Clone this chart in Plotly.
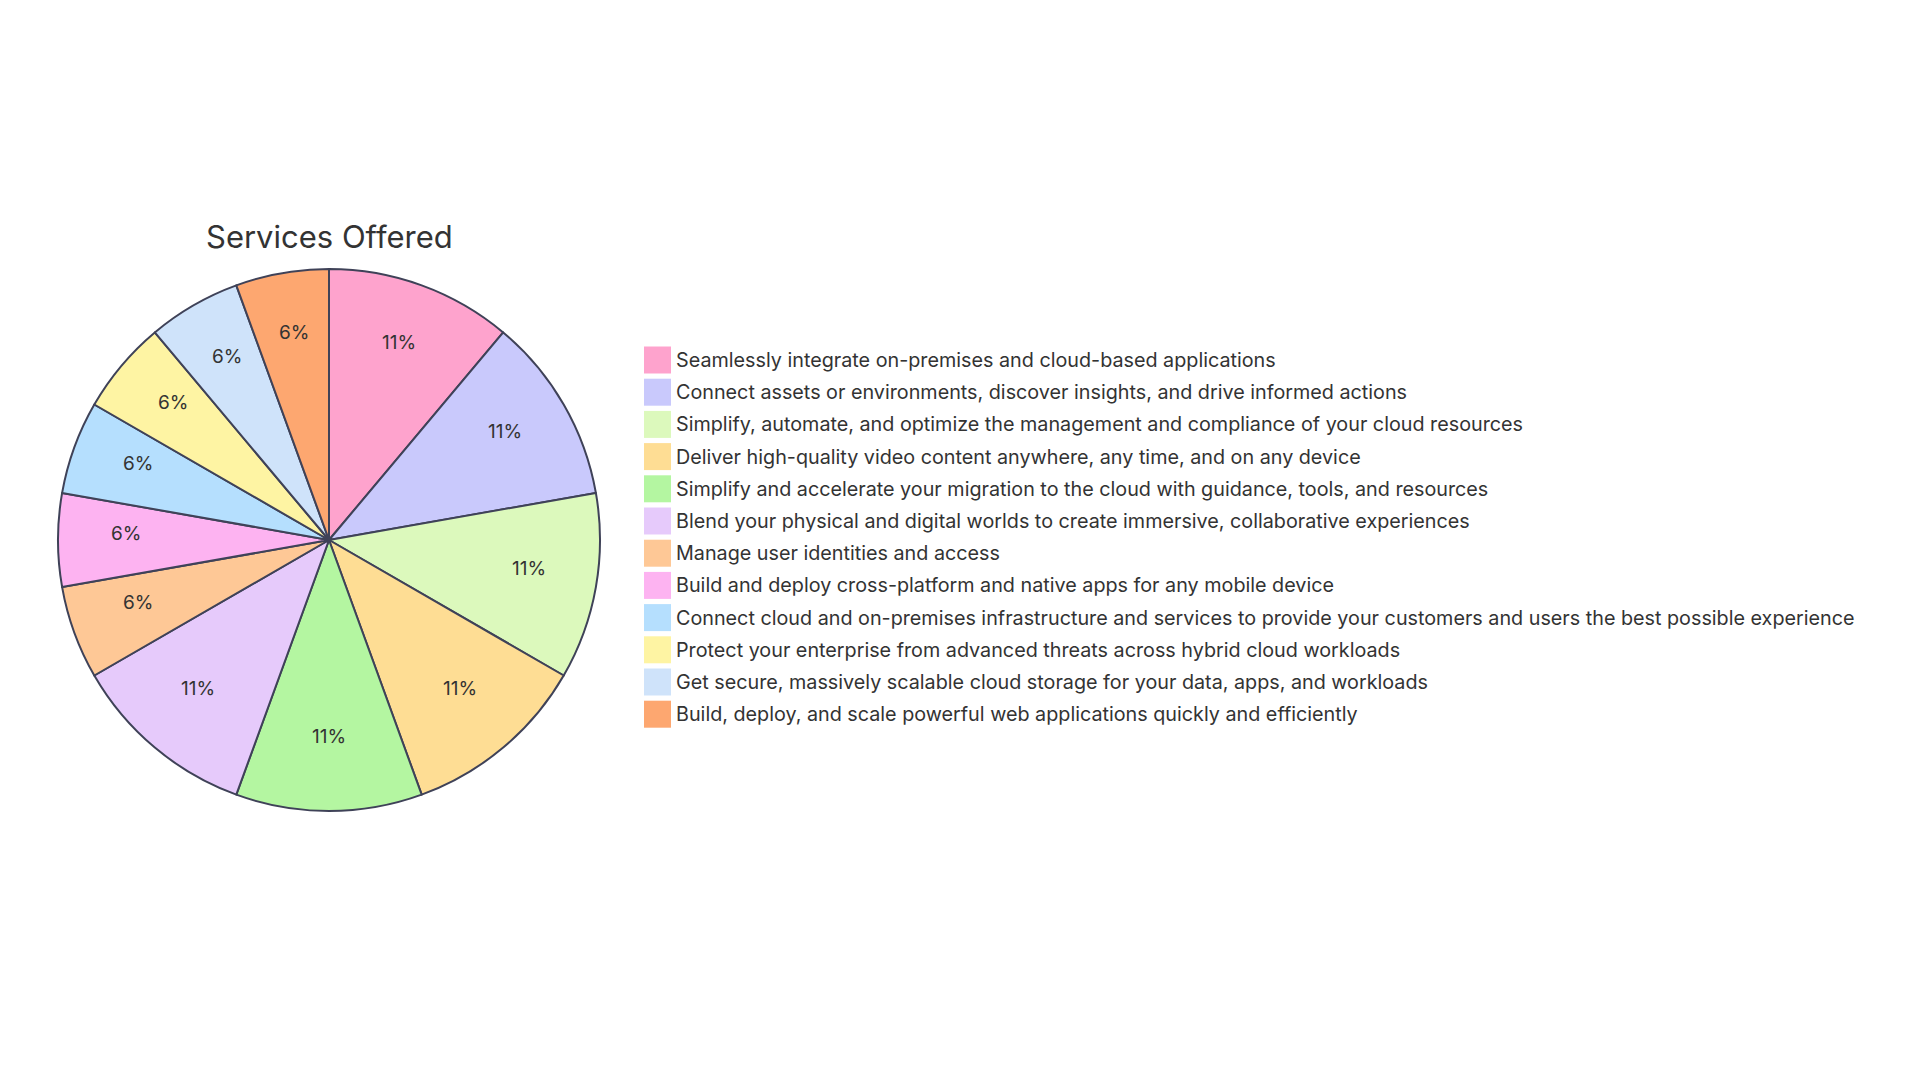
import math
import plotly.graph_objects as go

W, H = 1920, 1080

title = "Services Offered"
labels = [
    "Seamlessly integrate on-premises and cloud-based applications",
    "Connect assets or environments, discover insights, and drive informed actions",
    "Simplify, automate, and optimize the management and compliance of your cloud resources",
    "Deliver high-quality video content anywhere, any time, and on any device",
    "Simplify and accelerate your migration to the cloud with guidance, tools, and resources",
    "Blend your physical and digital worlds to create immersive, collaborative experiences",
    "Manage user identities and access",
    "Build and deploy cross-platform and native apps for any mobile device",
    "Connect cloud and on-premises infrastructure and services to provide your customers and users the best possible experience",
    "Protect your enterprise from advanced threats across hybrid cloud workloads",
    "Get secure, massively scalable cloud storage for your data, apps, and workloads",
    "Build, deploy, and scale powerful web applications quickly and efficiently",
]
values = [2, 2, 2, 2, 2, 2, 1, 1, 1, 1, 1, 1]
colors = [
    "#FEA3CD", "#C9C9FC", "#DCF9BC", "#FEDD94", "#B4F6A1", "#E6CAFB",
    "#FEC896", "#FDB3F1", "#B5DFFE", "#FEF4A3", "#CFE3FA", "#FDA770",
]

FONT = "Inter"
TEXT = "#333333"
STROKE = "#3F4258"

# pie geometry (pixels)
cx, cy, r = 329, 540, 271

fig = go.Figure()
fig.add_trace(go.Pie(
    labels=labels,
    values=values,
    sort=False,
    direction="clockwise",
    rotation=0,
    marker=dict(colors=colors, line=dict(color=STROKE, width=2)),
    textinfo="none",
    showlegend=False,
    domain=dict(x=[(cx - r) / W, (cx + r) / W], y=[1 - (cy + r) / H, 1 - (cy - r) / H]),
    hoverinfo="label+percent",
))

shapes = []
annotations = []
# title
annotations.append(dict(
    text=title, x=cx / W, y=1 - 236 / H, xref="paper", yref="paper",
    xanchor="center", yanchor="middle", showarrow=False,
    font=dict(family=FONT, size=31, color=TEXT),
))

# slice labels at 0.75 radius (baseline on the arc point)
total = sum(values)
cum = 0.0
for v in values:
    mid = (cum + v / 2) / total * 2 * math.pi
    cum += v
    px = cx + 0.75 * r * math.sin(mid)
    py = cy - 0.75 * r * math.cos(mid) - 7
    annotations.append(dict(
        text=f"{round(v / total * 100)}%", x=px / W, y=1 - py / H,
        xref="paper", yref="paper", xanchor="center", yanchor="middle",
        showarrow=False, font=dict(family=FONT, size=19, color=TEXT),
    ))

# legend
lx0, lx1, sw = 644, 671, 27
ly0, lstep = 360, 32.2
for i, (lab, col) in enumerate(zip(labels, colors)):
    yc = ly0 + i * lstep
    shapes.append(dict(
        type="rect", xref="paper", yref="paper",
        x0=lx0 / W, x1=lx1 / W, y0=1 - (yc - sw / 2) / H, y1=1 - (yc + sw / 2) / H,
        fillcolor=col, line=dict(width=0), layer="above",
    ))
    annotations.append(dict(
        text=lab, x=674 / W, y=1 - yc / H, xref="paper", yref="paper",
        xanchor="left", yanchor="middle", showarrow=False,
        font=dict(family=FONT, size=19.75, color=TEXT),
    ))

fig.update_layout(
    width=W, height=H,
    margin=dict(l=0, r=0, t=0, b=0),
    paper_bgcolor="white", plot_bgcolor="white",
    shapes=shapes, annotations=annotations,
)

fig.write_html("out.html")
